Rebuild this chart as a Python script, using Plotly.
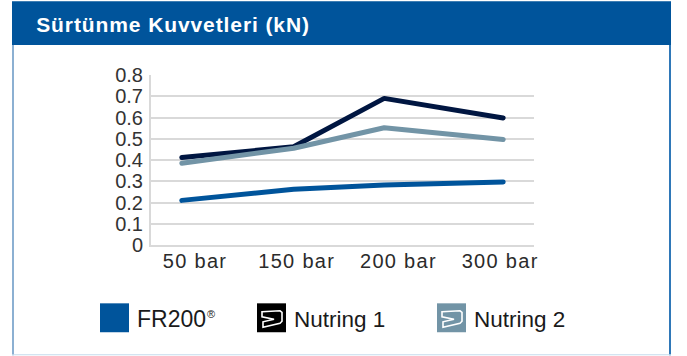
import plotly.graph_objects as go

categories = ["50 bar", "150 bar", "200 bar", "300 bar"]
category_slots = [0, 1, 2, 3]
# Points sit slightly off their labels in the reference, read in label-slot units
point_slots = [-0.13, 0.97, 1.86, 3.03]
fr200 = [0.21, 0.262, 0.282, 0.297]
nutring1 = [0.412, 0.462, 0.69, 0.598]
nutring2 = [0.385, 0.455, 0.552, 0.497]
y_ticks = [0, 0.1, 0.2, 0.3, 0.4, 0.5, 0.6, 0.7, 0.8]
y_labels = ["0", "0.1", "0.2", "0.3", "0.4", "0.5", "0.6", "0.7", "0.8"]
title = "Sürtünme Kuvvetleri (kN)"

BLUE = "#00549b"
NAVY = "#001641"
GREY = "#7294a6"
W, H = 687, 356
L, R, T, B = 151, 534, 75, 245.5
FONT = "Liberation Sans"

def px(x):
    return (x - L) / (R - L)
def py(y):
    return (B - y) / (B - T)

fig = go.Figure()
for name, vals, col in [("FR200", fr200, BLUE), ("Nutring 1", nutring1, NAVY), ("Nutring 2", nutring2, GREY)]:
    fig.add_trace(go.Scatter(x=point_slots, y=vals, name=name, mode="lines",
                             line=dict(color=col, width=5), showlegend=False, hoverinfo="skip"))

shapes = []
def rect(x0, y0, x1, y1, col):
    shapes.append(dict(type="rect", xref="paper", yref="paper", layer="below",
                       x0=px(x0), x1=px(x1), y0=py(y0), y1=py(y1),
                       fillcolor=col, line=dict(width=0)))

rect(12, 44, 14, 356, "#8cb0d2")
rect(669, 44, 671, 356, "#2f78b8")
rect(12, 355, 671, 356, "#c5dbec")
rect(12, 1, 671, 45, BLUE)
rect(100, 304, 129, 333, BLUE)
rect(257, 304, 286, 333, "#000000")
rect(437, 304, 466, 333, GREY)

def icon(x0):
    pts = [(5, 8.5), (23, 7.5), (25, 9), (25, 18), (23, 20), (6, 24), (6, 18.5), (17, 16), (5, 13.5)]
    path = "M" + " L".join(f"{px(x0 + a):.5f},{py(304 + b):.5f}" for a, b in pts) + " Z"
    shapes.append(dict(type="path", xref="paper", yref="paper", path=path,
                       line=dict(color="white", width=1.6), fillcolor="rgba(0,0,0,0)"))
icon(257)
icon(437)

anns = [
    dict(text=f"<b>{title}</b>", x=px(44.5), y=py(24.5), xanchor="left", yanchor="middle",
         font=dict(family=FONT, size=21, color="white")),
    dict(text="FR200", x=px(134.5), y=py(320), xanchor="left", yanchor="middle",
         font=dict(family=FONT, size=23, color="#1a1a1a")),
    dict(text="®", x=px(204.5), y=py(315), xanchor="left", yanchor="middle",
         font=dict(family=FONT, size=11, color="#1a1a1a")),
    dict(text="Nutring 1", x=px(292), y=py(320), xanchor="left", yanchor="middle",
         font=dict(family=FONT, size=22.5, color="#1a1a1a")),
    dict(text="Nutring 2", x=px(472), y=py(320), xanchor="left", yanchor="middle",
         font=dict(family=FONT, size=22.5, color="#1a1a1a")),
]
for a in anns:
    a.update(xref="paper", yref="paper", showarrow=False)

fig.update_layout(
    width=W, height=H, paper_bgcolor="white", plot_bgcolor="white",
    margin=dict(l=L, r=W - R, t=T, b=H - B, pad=0),
    shapes=shapes, annotations=anns, showlegend=False,
    xaxis=dict(range=[-0.433, 3.333], tickmode="array", tickvals=category_slots, ticktext=categories,
               showgrid=False, zeroline=False, showline=True, linecolor="#d9d9d9", linewidth=2,
               ticks="", ticklabelstandoff=-3, tickfont=dict(family=FONT, size=20, color="#2b2b2b")),
    yaxis=dict(range=[0, 0.8], tickmode="array", tickvals=y_ticks, ticktext=y_labels,
               showgrid=True, gridcolor="#d9d9d9", gridwidth=2, zeroline=False, showline=True,
               linecolor="#d9d9d9", linewidth=2, ticks="", ticklabelstandoff=2,
               tickfont=dict(family=FONT, size=20, color="#333333")),
)
post = """
document.body.style.margin='0';document.body.style.overflow='hidden';
document.querySelectorAll('.js-line').forEach(function(p){p.style.strokeLinecap='round';p.style.strokeLinejoin='round';});
document.querySelectorAll('.xtick text').forEach(function(t){t.style.letterSpacing='1.3px';});
var a=document.querySelector('.annotation-text'); if(a){a.style.letterSpacing='0.9px';}
"""
fig.write_html("out.html", config=dict(displayModeBar=False), post_script=post)
